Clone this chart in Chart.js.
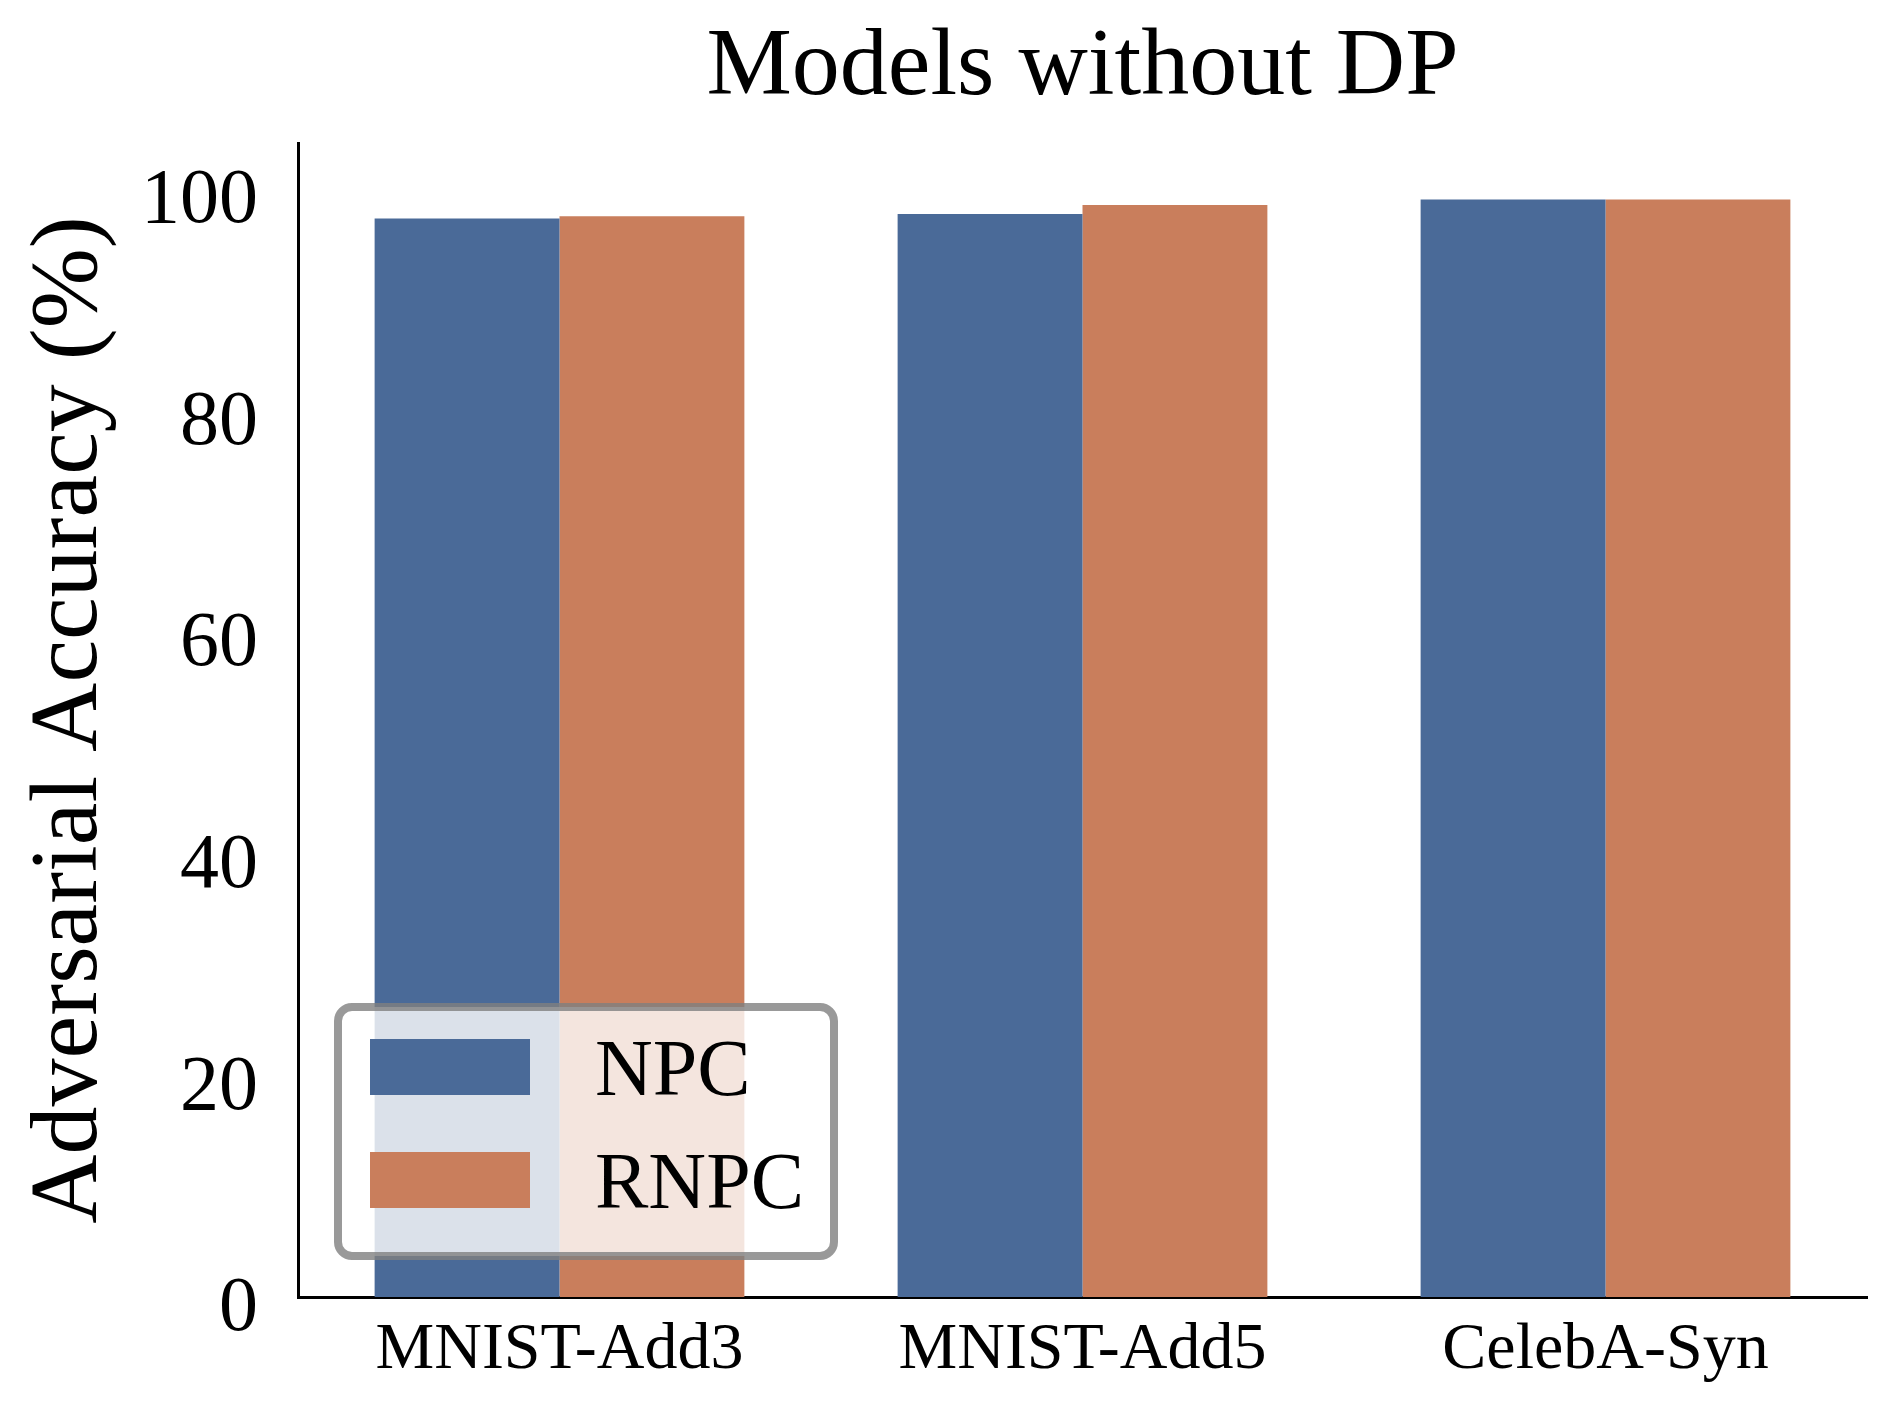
<!DOCTYPE html>
<html>
<head>
<meta charset="utf-8">
<script src="https://cdn.jsdelivr.net/npm/chart.js@4.4.0/dist/chart.umd.min.js"></script>
<style>
  body { margin: 0; background: #fff; }
  #chart { display: block; }
</style>
</head>
<body>
<canvas id="chart" width="1896" height="1416"></canvas>
<script>
// data
const categories = ["MNIST-Add3", "MNIST-Add5", "CelebA-Syn"];
const npcValues = [97.3, 97.7, 99.0];
const rnpcValues = [97.5, 98.5, 99.0];
const yTicks = [0, 20, 40, 60, 80, 100];
const yMax = 104.1;
const titleText = "Models without DP";

const BLUE = "#4a6a98";
const ORANGE = "#c97e5c";
const SERIF = "'Liberation Serif', 'Times New Roman', 'DejaVu Serif', serif";

// title centred over the axes (not the canvas), like matplotlib
const axesTitle = {
  id: "axesTitle",
  afterDraw(chart) {
    const ctx = chart.ctx;
    const area = chart.chartArea;
    ctx.save();
    ctx.font = "96px " + SERIF;
    ctx.fillStyle = "#000";
    ctx.textAlign = "center";
    ctx.textBaseline = "alphabetic";
    ctx.fillText(titleText, (area.left + area.right) / 2, 94);
    ctx.restore();
  }
};

// legend box drawn inside the plot, lower left
const boxLegend = {
  id: "boxLegend",
  afterDatasetsDraw(chart) {
    const ctx = chart.ctx;
    const area = chart.chartArea;
    const x0 = area.left + 40, y1 = area.bottom - 41;
    const w = 496, h = 249, y0 = y1 - h;
    ctx.save();
    ctx.beginPath();
    ctx.roundRect(x0, y0, w, h, 14);
    ctx.fillStyle = "rgba(255,255,255,0.8)";
    ctx.fill();
    ctx.lineWidth = 8;
    ctx.strokeStyle = "rgba(128,128,128,0.8)";
    ctx.stroke();
    ctx.font = "80px " + SERIF;
    ctx.textBaseline = "alphabetic";
    chart.data.datasets.forEach(function (ds, i) {
      const rowBottom = y0 + 88 + i * 113;
      ctx.fillStyle = ds.backgroundColor;
      ctx.fillRect(x0 + 32, rowBottom - 56, 160, 56);
      ctx.fillStyle = "#000";
      ctx.fillText(ds.label, x0 + 257, rowBottom);
    });
    ctx.restore();
  }
};

const data = {
  labels: categories,
  datasets: [
    { label: "NPC", data: npcValues, backgroundColor: BLUE },
    { label: "RNPC", data: rnpcValues, backgroundColor: ORANGE }
  ]
};

const config = {
  type: "bar",
  data: data,
  options: {
    responsive: false,
    animation: false,
    devicePixelRatio: 1,
    layout: { padding: { left: 0, right: 29, top: 143, bottom: 0 } },
    datasets: {
      bar: { categoryPercentage: 0.707, barPercentage: 1.0 }
    },
    plugins: {
      legend: { display: false },
      tooltip: { enabled: false },
      title: { display: false }
    },
    scales: {
      x: {
        offset: true,
        grid: { display: false, drawTicks: false },
        border: { display: true, color: "#000", width: 3 },
        ticks: {
          color: "#000",
          padding: 14,
          font: { family: SERIF, size: 66 }
        },
        afterFit(scale) { scale.height = 119; }
      },
      y: {
        min: 0,
        max: yMax,
        grid: { display: false, drawTicks: false },
        border: { display: true, color: "#000", width: 3 },
        afterBuildTicks(scale) {
          scale.ticks = yTicks.map(function (v) { return { value: v }; });
        },
        ticks: {
          color: "#000",
          padding: 40,
          labelOffset: 13,
          font: { family: SERIF, size: 78 }
        },
        title: {
          display: true,
          text: "Adversarial Accuracy (%)",
          color: "#000",
          font: { family: SERIF, size: 96, lineHeight: 1.2 },
          padding: { top: 13, bottom: 0 }
        },
        afterFit(scale) { scale.width = 298; }
      }
    }
  },
  plugins: [boxLegend, axesTitle]
};

const myChart = new Chart(document.getElementById("chart"), config);
</script>
</body>
</html>
